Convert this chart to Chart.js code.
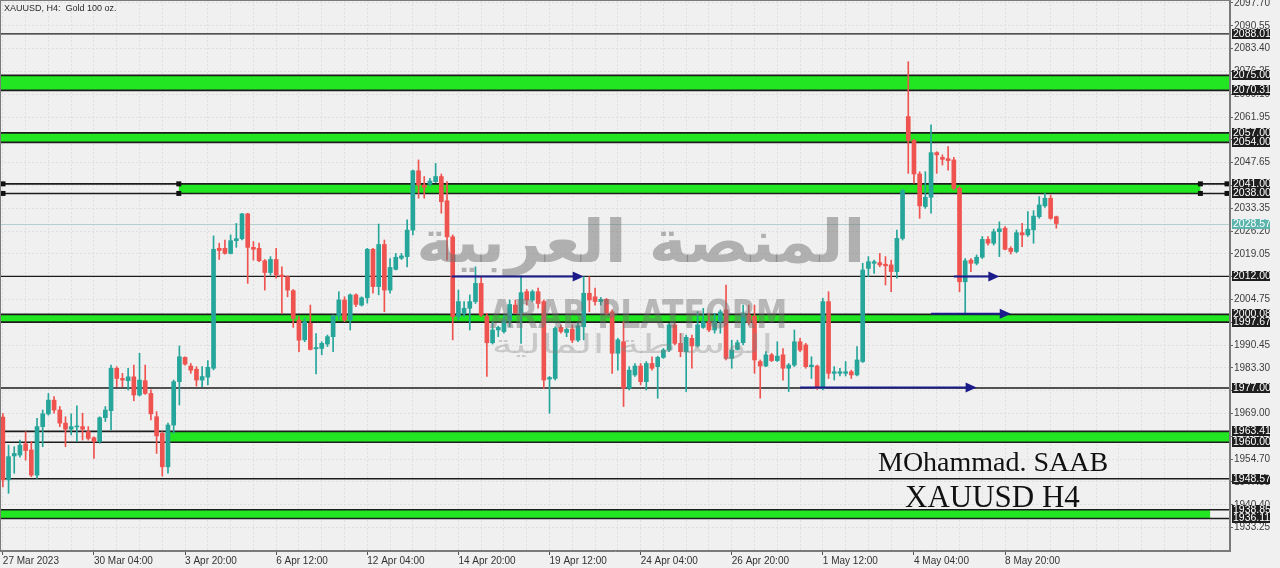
<!DOCTYPE html>
<html>
<head>
<meta charset="utf-8">
<title>XAUUSD H4</title>
<script src="https://cdn.jsdelivr.net/npm/chart.js@4.4.0/dist/chart.umd.min.js"></script>
<style>
  html, body { margin: 0; padding: 0; background: #f0f0f0; }
  #wrap { width: 1280px; height: 568px; }
</style>
</head>
<body>
<div id="wrap"><canvas id="myChart" width="1280" height="568"></canvas></div>
<script>
// time axis: one label every 16 bars, 216 slots (bars + empty right margin)
const tickLabels = ['27 Mar 2023', '30 Mar 04:00', '3 Apr 20:00', '6 Apr 12:00', '12 Apr 04:00', '14 Apr 20:00',
    '19 Apr 12:00', '24 Apr 04:00', '26 Apr 20:00', '1 May 12:00', '4 May 04:00', '8 May 20:00'];
const labelEvery = 16;
const slotCount = 216;

const opens = [
    1967.9, 1948.2, 1955.7, 1956.0, 1959.5, 1957.6, 1949.7, 1964.9, 1968.9, 1973.2,
    1970.1, 1966.0, 1964.1, 1964.8, 1964.9, 1963.3, 1961.4, 1960.2, 1967.7, 1969.9,
    1983.2, 1980.0, 1979.3, 1980.5, 1974.8, 1979.3, 1975.3, 1968.0, 1962.8, 1952.3,
    1965.4, 1979.0, 1986.6, 1983.9, 1982.9, 1979.5, 1980.4, 1983.2, 2020.8, 2020.8,
    2019.2, 2023.2, 2023.8, 2031.6, 2021.1, 2020.8, 2016.9, 2013.2, 2017.3, 2012.4,
    2011.9, 2007.5, 1998.3, 1992.1, 1997.3, 1989.3, 1989.4, 1990.8, 1993.1, 1999.6,
    2004.6, 1998.3, 2006.2, 2003.0, 2005.3, 2020.5, 2008.8, 2022.0, 2007.7, 2014.2,
    2017.7, 2018.2, 2026.5, 2045.1, 2040.6, 2040.9, 2041.7, 2043.3, 2035.7, 2024.4,
    1999.4, 2000.4, 2002.0, 2004.1, 2009.8, 1999.4, 1991.2, 1995.2, 1994.7, 1998.3,
    2003.0, 2000.6, 2007.2, 2004.6, 2007.2, 2004.1, 1979.8, 1980.0, 1996.0, 1994.4,
    1995.5, 1992.0, 1996.2, 2006.7, 2005.6, 2004.1, 2004.8, 2000.9, 1987.9, 1991.5,
    1976.9, 1981.1, 1983.9, 1979.0, 1984.7, 1983.7, 1986.6, 1988.9, 1996.8, 1991.0,
    1988.4, 1992.6, 1990.2, 1996.0, 1997.8, 1995.2, 1997.8, 2001.5, 1986.3, 1989.1,
    1991.2, 1999.9, 1999.5, 1985.3, 1983.9, 1987.4, 1985.6, 1987.4, 1983.2, 1984.2,
    1991.5, 1990.5, 1983.7, 1983.9, 1976.9, 2004.1, 1981.6, 1981.6, 1981.6, 1982.1,
    1981.1, 1985.3, 2014.5, 2016.1, 2016.3, 2015.8, 2015.6, 2013.5, 2023.9, 2062.1,
    2054.6, 2044.1, 2033.9, 2036.8, 2050.8, 2049.3, 2048.9, 2048.5, 2039.6, 2010.3,
    2017.1, 2016.1, 2018.0, 2023.6, 2022.4, 2026.0, 2027.1, 2020.8, 2019.8, 2025.7,
    2025.0, 2026.6, 2030.7, 2034.1, 2036.5, 2030.7
];
const highs = [
    1969.0, 1959.1, 1958.6, 1960.7, 1963.3, 1960.2, 1967.5, 1970.1, 1975.3, 1974.3,
    1971.2, 1968.0, 1968.9, 1971.4, 1969.1, 1964.9, 1961.7, 1968.0, 1971.2, 1984.2,
    1983.7, 1981.6, 1983.2, 1984.2, 1987.9, 1984.2, 1976.4, 1969.6, 1963.3, 1966.0,
    1979.5, 1990.2, 1986.8, 1984.7, 1983.7, 1983.7, 1985.6, 2024.7, 2022.4, 2023.4,
    2025.0, 2028.6, 2031.8, 2031.8, 2022.9, 2022.4, 2017.3, 2018.2, 2020.8, 2015.0,
    2012.1, 2007.9, 1999.4, 1998.9, 2003.0, 1994.1, 1991.5, 1993.6, 1999.9, 2007.2,
    2005.6, 2006.5, 2006.5, 2005.6, 2020.8, 2020.8, 2028.4, 2023.4, 2017.6, 2019.2,
    2019.2, 2029.7, 2045.3, 2048.5, 2043.3, 2042.7, 2047.4, 2044.1, 2041.7, 2025.0,
    2007.7, 2004.1, 2006.2, 2015.0, 2011.9, 2000.4, 1997.8, 1996.4, 1999.9, 2004.6,
    2004.6, 2012.1, 2007.9, 2007.7, 2008.3, 2004.6, 1980.6, 1996.2, 1996.8, 1995.7,
    1996.8, 1997.3, 2011.9, 2011.9, 2008.3, 2005.4, 2005.1, 2001.5, 1992.6, 1997.8,
    1983.7, 1984.7, 1984.7, 1985.3, 1986.8, 1987.0, 1989.4, 1997.3, 1997.3, 1994.1,
    1993.6, 1993.6, 2000.9, 2002.0, 2000.4, 2000.4, 2001.5, 2009.3, 1992.0, 1992.0,
    2003.0, 2003.0, 2003.0, 1985.8, 1988.4, 1987.9, 1991.5, 1989.4, 1984.7, 1995.2,
    1992.6, 1991.0, 1986.8, 1984.2, 2005.1, 2007.2, 1983.7, 1983.2, 1985.3, 1982.6,
    1990.0, 2016.1, 2018.2, 2017.1, 2019.2, 2018.2, 2017.1, 2026.5, 2039.3, 2079.3,
    2055.0, 2044.8, 2044.8, 2059.5, 2051.1, 2050.1, 2052.7, 2049.3, 2040.1, 2017.6,
    2017.6, 2018.7, 2024.5, 2024.5, 2026.8, 2029.1, 2027.6, 2021.3, 2026.5, 2028.6,
    2032.3, 2032.6, 2037.0, 2038.0, 2037.5, 2030.9
];
const lows = [
    1946.0, 1944.0, 1950.3, 1955.3, 1954.4, 1949.2, 1948.7, 1958.6, 1968.5, 1969.1,
    1964.9, 1958.6, 1962.3, 1960.2, 1960.7, 1960.7, 1954.9, 1959.7, 1966.5, 1963.9,
    1977.4, 1977.4, 1976.4, 1973.0, 1974.5, 1975.0, 1967.0, 1956.5, 1949.4, 1950.3,
    1962.8, 1971.7, 1984.2, 1981.6, 1977.6, 1977.4, 1978.0, 1982.7, 2017.3, 2019.0,
    2019.0, 2021.1, 2023.4, 2009.8, 2017.1, 2016.6, 2007.7, 2012.4, 2011.4, 2000.4,
    2005.6, 1996.0, 1988.4, 1991.5, 1988.9, 1981.4, 1987.4, 1990.0, 1988.4, 1998.3,
    1997.8, 1995.2, 2002.5, 2002.7, 2003.6, 2006.7, 2006.2, 2000.9, 2006.7, 2014.0,
    2017.3, 2015.0, 2025.0, 2036.5, 2036.5, 2040.3, 2041.4, 2031.8, 2017.1, 1992.1,
    1998.3, 1999.4, 1995.2, 2003.5, 1999.4, 1980.6, 1990.8, 1993.1, 1994.2, 1996.2,
    2000.4, 1991.0, 2003.0, 2004.1, 2002.0, 1976.9, 1969.1, 1979.5, 1994.2, 1993.1,
    1991.2, 1991.5, 1992.1, 2000.9, 2003.0, 2003.0, 1999.9, 1981.6, 1982.6, 1971.2,
    1976.4, 1980.6, 1978.0, 1976.4, 1982.6, 1973.8, 1986.3, 1988.4, 1990.5, 1986.8,
    1975.9, 1983.2, 1989.8, 1995.7, 1994.7, 1994.2, 1994.2, 1985.8, 1983.2, 1988.9,
    1990.5, 1996.8, 1981.6, 1973.8, 1983.7, 1985.3, 1985.3, 1979.5, 1975.9, 1983.7,
    1988.4, 1983.2, 1980.0, 1976.6, 1976.4, 1980.0, 1979.5, 1980.8, 1980.8, 1980.0,
    1980.8, 1985.0, 2011.9, 2012.9, 2015.0, 2009.3, 2007.2, 2011.4, 2023.4, 2044.3,
    2041.2, 2030.2, 2033.3, 2031.8, 2044.3, 2046.9, 2045.3, 2039.1, 2007.2, 2000.4,
    2013.5, 2015.6, 2017.6, 2021.8, 2021.8, 2018.2, 2020.3, 2019.0, 2019.4, 2021.3,
    2024.5, 2022.4, 2030.2, 2033.6, 2029.9, 2027.1
];
const closes = [
    1948.2, 1955.5, 1956.5, 1959.1, 1957.4, 1949.7, 1964.9, 1968.9, 1973.2, 1970.1,
    1966.0, 1964.1, 1964.9, 1965.1, 1964.1, 1961.2, 1960.2, 1967.7, 1970.1, 1983.2,
    1980.0, 1979.5, 1980.5, 1974.8, 1979.5, 1975.3, 1968.9, 1962.0, 1952.3, 1965.4,
    1979.0, 1986.8, 1984.5, 1982.6, 1979.5, 1980.6, 1983.5, 2020.5, 2020.1, 2019.2,
    2023.2, 2023.8, 2031.6, 2021.1, 2020.5, 2016.9, 2013.2, 2017.3, 2012.4, 2011.9,
    2007.7, 1998.8, 1992.0, 1997.8, 1989.1, 1989.7, 1991.0, 1993.1, 1999.6, 2004.6,
    1998.3, 2006.2, 2003.2, 2005.3, 2020.5, 2008.8, 2022.0, 2007.7, 2014.8, 2018.0,
    2018.4, 2026.5, 2045.1, 2040.6, 2039.9, 2041.9, 2043.3, 2035.4, 2024.4, 1999.4,
    2004.1, 2002.0, 2004.1, 2009.8, 1999.9, 1991.2, 1995.2, 1996.0, 1998.3, 2003.2,
    2000.6, 2006.9, 2004.6, 2007.2, 2003.5, 1979.5, 1980.3, 1995.7, 1994.7, 1995.4,
    1992.0, 1996.5, 2006.7, 2004.6, 2004.1, 2004.8, 2000.4, 1987.9, 1992.1, 1976.9,
    1982.6, 1983.9, 1979.0, 1984.7, 1983.2, 1986.6, 1988.9, 1996.8, 1991.0, 1988.4,
    1992.9, 1990.2, 1996.8, 1997.8, 1995.2, 1997.8, 2000.9, 1986.3, 1988.9, 1991.2,
    2000.4, 1997.5, 1985.8, 1983.9, 1987.4, 1985.6, 1987.0, 1983.2, 1984.2, 1991.5,
    1988.9, 1983.7, 1984.2, 1976.9, 2004.1, 1981.6, 1982.1, 1982.1, 1982.1, 1981.1,
    1985.8, 2014.0, 2016.6, 2016.6, 2015.6, 2015.3, 2013.5, 2023.9, 2038.9, 2054.6,
    2044.1, 2034.1, 2036.8, 2050.8, 2050.1, 2048.7, 2048.3, 2039.6, 2010.3, 2016.9,
    2016.1, 2018.0, 2023.6, 2022.4, 2026.0, 2026.9, 2020.5, 2019.8, 2025.7, 2025.0,
    2026.8, 2030.9, 2034.4, 2036.5, 2030.2, 2028.57
];

const yTickValues = [1933.25, 1940.40, 1947.55, 1954.70, 1961.85, 1969.00, 1976.15, 1983.30, 1990.45,
    1997.60, 2004.75, 2011.90, 2019.05, 2026.20, 2033.35, 2040.50, 2047.65, 2054.80, 2061.95,
    2069.10, 2076.25, 2083.40, 2090.55, 2097.70];

// zones (price from/to, bar index range of the green fill)
const bandLow = [2070.31, 2054.00, 2038.00, 1997.67, 1960.00, 1936.11];
const bandHigh = [2075.00, 2057.00, 2041.00, 2000.08, 1963.41, 1938.85];
const bandStart = [-0.5, -0.5, 30.9, -0.5, 28.6, -0.5];
const bandEnd = [215.5, 215.5, 210.3, 215.5, 215.5, 212.0];
const lineLevels = [2088.01, 2012.00, 1977.00, 1948.57];
const lastPrice = 2028.57;

// arrows: from bar, to bar, price
const arrowFrom = [78.8, 140, 163, 167];
const arrowTo = [102, 171, 177, 175];
const arrowPrice = [2012.0, 1977.2, 2000.3, 2012.0];

const priceTags = [2088.01, 2075.00, 2070.31, 2057.00, 2054.00, 2041.00, 2038.00, 2012.00,
    2000.08, 1997.67, 1977.00, 1963.41, 1960.00, 1948.57, 1938.85, 1936.11];

const categories = Array.from({length: slotCount}, (_, i) =>
    (i % labelEvery === 0 && tickLabels[i / labelEvery]) ? tickLabels[i / labelEvery] : '');

const upColor = '#26a69a';
const downColor = '#ef5350';
const candleColors = opens.map((o, i) => closes[i] >= o ? upColor : downColor);

const axisFont = {family: '"Liberation Sans", Arial, sans-serif', size: 10};

function fitText(c, text, cx, cy, w, h, font) {
    c.save();
    c.font = font;
    const m = c.measureText(text);
    const tw = m.actualBoundingBoxLeft + m.actualBoundingBoxRight;
    const th = m.actualBoundingBoxAscent + m.actualBoundingBoxDescent;
    c.translate(cx, cy);
    c.scale(w / tw, h / th);
    c.textAlign = 'left';
    c.textBaseline = 'alphabetic';
    c.fillText(text, -tw / 2 + m.actualBoundingBoxLeft, -th / 2 + m.actualBoundingBoxAscent);
    c.restore();
}

const levelsPlugin = {
    id: 'levels',
    beforeDatasetsDraw(chart) {
        const c = chart.ctx, xs = chart.scales.x, ys = chart.scales.y, a = chart.chartArea;
        c.save();
        // last price line
        let y = Math.round(ys.getPixelForValue(lastPrice)) + 0.5;
        c.strokeStyle = '#b3cfcf';
        c.lineWidth = 1;
        c.beginPath(); c.moveTo(a.left, y); c.lineTo(a.right, y); c.stroke();

        bandLow.forEach((lo, i) => {
            const y1 = ys.getPixelForValue(bandHigh[i]);
            const y2 = ys.getPixelForValue(lo);
            const x1 = xs.getPixelForValue(bandStart[i]);
            const x2 = xs.getPixelForValue(bandEnd[i]);
            c.fillStyle = '#22e622';
            c.fillRect(x1, y1, x2 - x1, y2 - y1);
            c.strokeStyle = '#1c1c1c';
            c.lineWidth = 1.6;
            [y1, y2].forEach(yy => {
                c.beginPath(); c.moveTo(a.left, yy); c.lineTo(a.right, yy); c.stroke();
            });
        });
        lineLevels.forEach(v => {
            const yy = ys.getPixelForValue(v);
            c.strokeStyle = '#1c1c1c';
            c.lineWidth = 1.4;
            c.beginPath(); c.moveTo(a.left, yy); c.lineTo(a.right, yy); c.stroke();
        });
        // anchor squares of the 2038-2041 zone
        c.fillStyle = '#111';
        [bandHigh[2], bandLow[2]].forEach(v => {
            const yy = ys.getPixelForValue(v);
            [a.left + 3, xs.getPixelForValue(bandStart[2]), xs.getPixelForValue(bandEnd[2]), a.right - 3].forEach(xx => {
                c.fillRect(xx - 2.5, yy - 2.5, 5, 5);
            });
        });
        c.restore();
    },
    afterDatasetsDraw(chart) {
        const c = chart.ctx, xs = chart.scales.x, ys = chart.scales.y;
        c.save();
        // watermark
        c.fillStyle = 'rgba(112,112,112,0.5)';
        fitText(c, 'المنصة العربية', 640, 247, 440, 60, 'bold 100px "DejaVu Sans"');
        c.fillStyle = 'rgba(112,112,112,0.45)';
        fitText(c, 'ARAB PLATFORM', 637, 313, 295, 30, 'bold 100px "DejaVu Sans"');
        c.fillStyle = 'rgba(130,130,130,0.35)';
        fitText(c, 'الوساطة المالية', 632, 346, 275, 26, '100px "DejaVu Sans"');

        // arrows
        c.strokeStyle = '#1b1b8a';
        c.fillStyle = '#1b1b8a';
        c.lineWidth = 2;
        arrowFrom.forEach((f, i) => {
            const x1 = xs.getPixelForValue(f), x2 = xs.getPixelForValue(arrowTo[i]);
            const y = ys.getPixelForValue(arrowPrice[i]);
            c.beginPath(); c.moveTo(x1, y); c.lineTo(x2 - 8, y); c.stroke();
            c.beginPath(); c.moveTo(x2, y); c.lineTo(x2 - 11, y - 5); c.lineTo(x2 - 11, y + 5); c.closePath(); c.fill();
        });

        // signature texts
        c.fillStyle = '#111';
        c.textAlign = 'left';
        c.textBaseline = 'alphabetic';
        c.font = '28px "Liberation Serif", "Times New Roman", serif';
        c.fillText('MOhammad. SAAB', 878, 471);
        c.font = '31px "Liberation Serif", "Times New Roman", serif';
        c.fillText('XAUUSD H4', 905, 507);
        c.restore();
    },
    afterDraw(chart) {
        const c = chart.ctx, ys = chart.scales.y, a = chart.chartArea;
        c.save();
        c.font = '10.5px "Liberation Sans", Arial, sans-serif';
        c.textBaseline = 'middle';
        c.textAlign = 'left';
        const tag = (v, bg) => {
            const y = ys.getPixelForValue(v);
            c.fillStyle = bg;
            c.fillRect(a.right + 2, Math.round(y) - 5, 38, 10);
            c.fillStyle = '#ffffff';
            c.fillText(v.toFixed(2), a.right + 3, Math.round(y) + 0.5);
        };
        priceTags.slice(0, 7).forEach(v => tag(v, '#1e1e1e'));
        tag(lastPrice, '#5bb5ad');
        priceTags.slice(7).forEach(v => tag(v, '#1e1e1e'));

        // frame
        c.strokeStyle = '#7a7a7a';
        c.lineWidth = 1;
        c.strokeRect(a.left + 0.5, a.top + 0.5, a.right - a.left - 1, a.bottom - a.top - 1);

        c.fillStyle = '#2a2a2a';
        c.font = '9px "Liberation Sans", Arial, sans-serif';
        c.textBaseline = 'top';
        c.fillText('XAUUSD, H4:  Gold 100 oz.', 4, 4);
        c.restore();
    }
};

const ctx = document.getElementById('myChart');

new Chart(ctx, {
    type: 'bar',
    data: {
        labels: categories,
        datasets: [{
            label: 'wick',
            data: lows.map((l, i) => [l, highs[i]]),
            backgroundColor: candleColors,
            barThickness: 1,
            grouped: false,
            order: 2
        }, {
            label: 'body',
            data: opens.map((o, i) => [o, closes[i]]),
            backgroundColor: candleColors,
            barThickness: 4,
            minBarLength: 1,
            grouped: false,
            order: 1
        }]
    },
    options: {
        responsive: false,
        animation: false,
        layout: {padding: 0},
        plugins: {
            legend: {display: false},
            tooltip: {enabled: false}
        },
        scales: {
            x: {
                offset: true,
                afterFit(scale) {
                    scale.height = 17;
                    scale.paddingLeft = 0;
                    scale.paddingRight = 0;
                },
                grid: {
                    offset: false,
                    color: c => c.index % 4 === 0 ? '#e0e0e0' : 'rgba(0,0,0,0)',
                    tickColor: c => c.index % labelEvery === 0 && categories[c.index] ? '#555' : 'rgba(0,0,0,0)',
                    tickLength: 4
                },
                border: {color: '#7a7a7a', dash: [2, 2]},
                ticks: {
                    autoSkip: false,
                    maxRotation: 0,
                    minRotation: 0,
                    align: 'start',
                    padding: 0,
                    color: '#333',
                    font: axisFont,
                    callback(value) { return categories[value]; }
                }
            },
            y: {
                position: 'right',
                min: 1925.91,
                max: 2098.64,
                afterFit(scale) {
                    scale.width = 50;
                    scale.paddingTop = 0;
                    scale.paddingBottom = 0;
                },
                afterBuildTicks(scale) { scale.ticks = yTickValues.map(v => ({value: v})); },
                grid: {
                    color: '#dedede',
                    tickColor: '#666',
                    tickLength: 3
                },
                border: {color: '#7a7a7a', dash: [2, 2]},
                ticks: {
                    padding: 1,
                    color: '#3c3c3c',
                    font: axisFont,
                    callback(value) { return value.toFixed(2); }
                }
            }
        }
    },
    plugins: [levelsPlugin]
});
</script>
</body>
</html>
